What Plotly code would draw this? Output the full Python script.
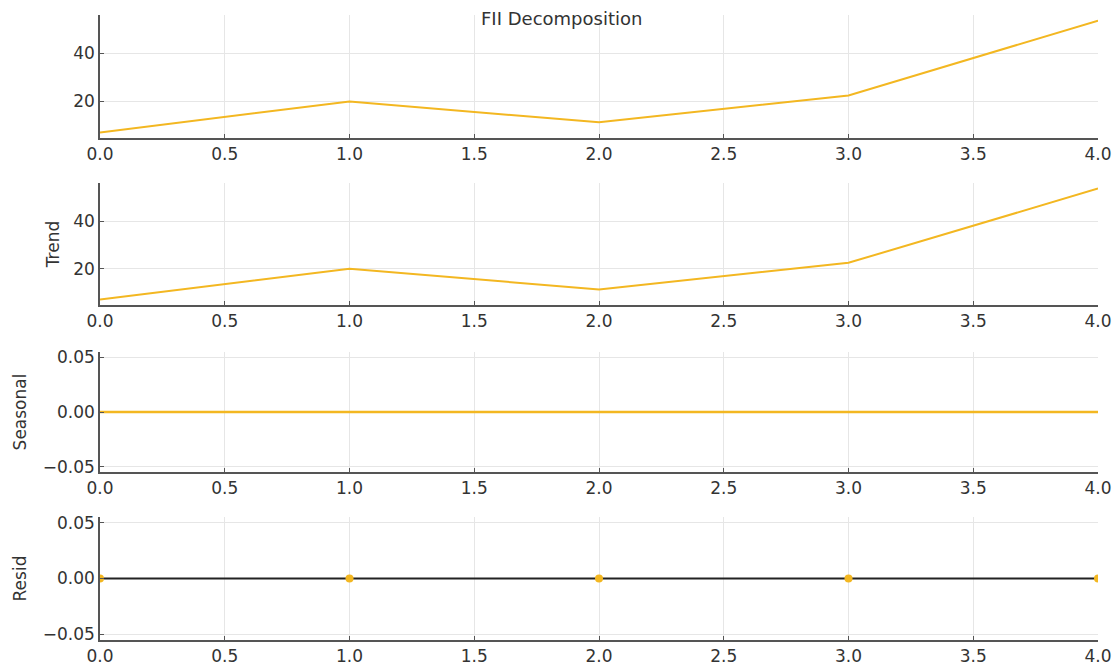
import plotly.graph_objects as go
from plotly.subplots import make_subplots

# Decomposition components of the FII series
period = [0, 1, 2, 3, 4]
observed = [7.1, 20.0, 11.3, 22.5, 53.7]
trend = [7.1, 20.0, 11.3, 22.5, 53.7]
seasonal = [0.0, 0.0, 0.0, 0.0, 0.0]
resid = [0.0, 0.0, 0.0, 0.0, 0.0]

x_ticks = [0.0, 0.5, 1.0, 1.5, 2.0, 2.5, 3.0, 3.5, 4.0]
x_labels = ["0.0", "0.5", "1.0", "1.5", "2.0", "2.5", "3.0", "3.5", "4.0"]
level_ticks = [20, 40]
small_ticks = [-0.05, 0.0, 0.05]
small_labels = ["\u22120.05", "0.00", "0.05"]

LINE = "#f3b721"
AXIS = "#555555"
GRID = "#e6e6e6"
FONT = "DejaVu Sans"

fig = make_subplots(rows=4, cols=1, vertical_spacing=0.0)

fig.add_trace(go.Scatter(x=period, y=observed, mode="lines",
                         line=dict(color=LINE, width=2)), row=1, col=1)
fig.add_trace(go.Scatter(x=period, y=trend, mode="lines",
                         line=dict(color=LINE, width=2)), row=2, col=1)
fig.add_trace(go.Scatter(x=period, y=seasonal, mode="lines",
                         line=dict(color=LINE, width=2.5)), row=3, col=1)
fig.add_trace(go.Scatter(x=[period[0], period[-1]], y=[0, 0], mode="lines",
                         line=dict(color="#222222", width=2)), row=4, col=1)
fig.add_trace(go.Scatter(x=period, y=resid, mode="markers",
                         marker=dict(color=LINE, size=8)), row=4, col=1)

domains = [(0.8032, 1.0), (0.536, 0.7312), (0.2688, 0.4608), (0.0, 0.1968)]
lo, hi = min(observed), max(observed)
pad = (hi - lo) * 0.05
y_ranges = [(lo - pad, hi + pad), (lo - pad, hi + pad), (-0.055, 0.055), (-0.055, 0.055)]
y_titles = ["", "Trend", "Seasonal", "Resid"]
title_gap = [4, 9, 12, 12]

axis_common = dict(
    showline=True, linecolor=AXIS, linewidth=1.5, mirror=False,
    showgrid=True, gridcolor=GRID, gridwidth=1, zeroline=False,
    ticks="inside", ticklen=4, tickcolor=AXIS, automargin=False,
    tickfont=dict(family=FONT, size=17, color="#333333"),
)

for i in range(4):
    suffix = "" if i == 0 else str(i + 1)
    fig.layout["xaxis" + suffix].update(
        domain=[0, 1], range=[0, 4], tickvals=x_ticks, ticktext=x_labels,
        anchor="y" + suffix, **axis_common)
    if i < 2:
        ytick = dict(tickvals=level_ticks, ticktext=[str(v) for v in level_ticks])
    else:
        ytick = dict(tickvals=small_ticks, ticktext=small_labels)
    fig.layout["yaxis" + suffix].update(
        domain=list(domains[i]), range=list(y_ranges[i]),
        title=dict(text=y_titles[i], font=dict(family=FONT, size=17, color="#333333"),
                   standoff=title_gap[i]),
        **ytick, **axis_common)

fig.add_annotation(text="FII Decomposition", xref="paper", yref="paper",
                   x=0.462, y=0.9936, xanchor="center", yanchor="middle",
                   showarrow=False, font=dict(family=FONT, size=18, color="#333333"))

fig.update_layout(
    width=1120, height=666, showlegend=False,
    paper_bgcolor="white", plot_bgcolor="white",
    margin=dict(l=100, r=22, t=15, b=26),
)

fig.write_html("out.html")
